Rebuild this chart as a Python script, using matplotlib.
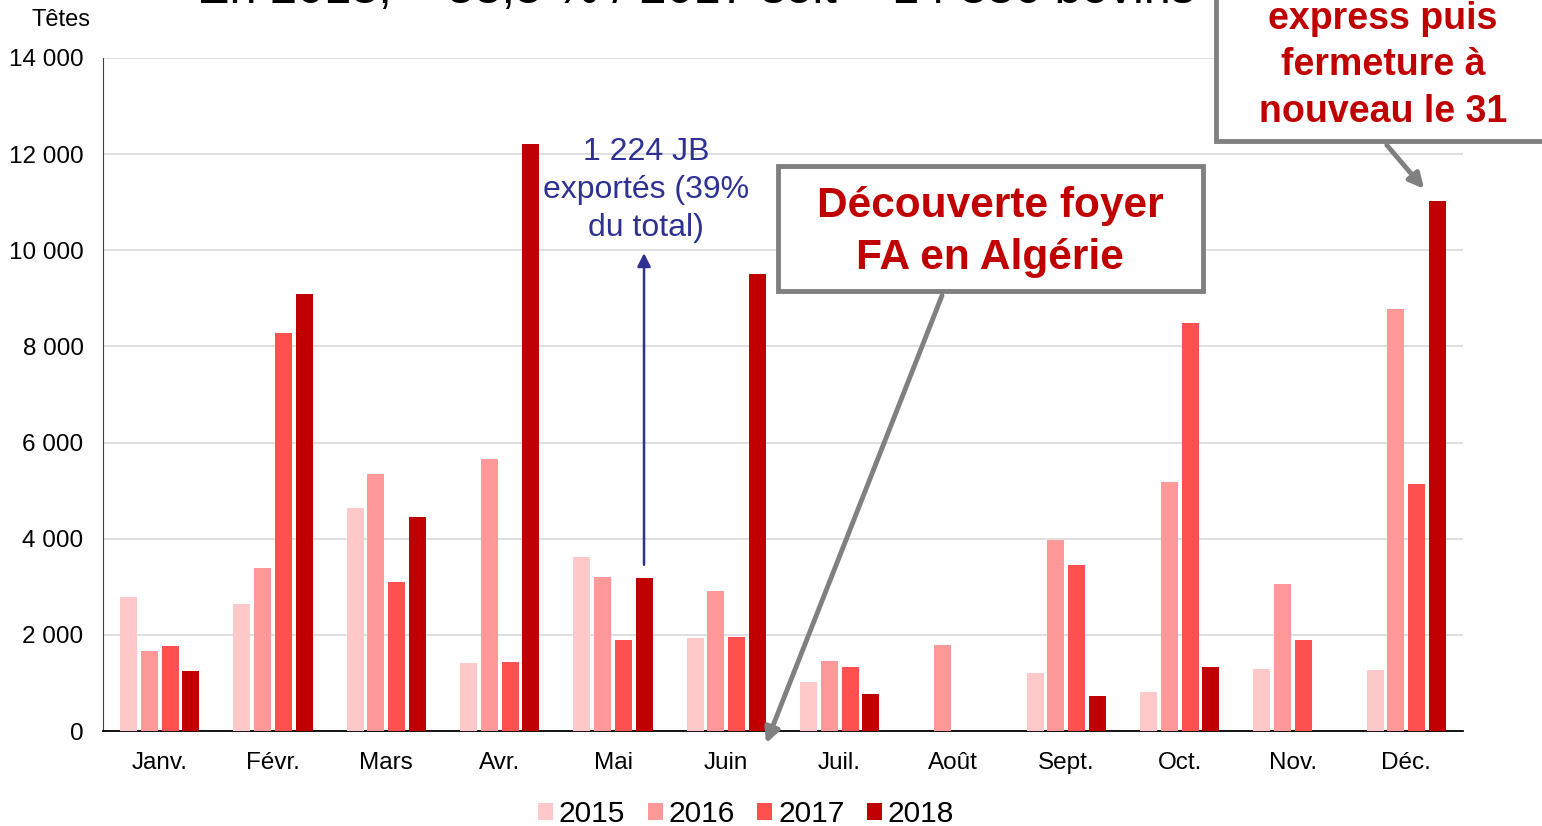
import matplotlib
matplotlib.use("Agg")
import matplotlib.pyplot as plt
from matplotlib.patches import Rectangle, FancyArrowPatch
from matplotlib.ticker import FuncFormatter

plt.rcParams['font.family'] = ['Liberation Sans', 'DejaVu Sans']

months = ["Janv.", "Févr.", "Mars", "Avr.", "Mai", "Juin", "Juil.", "Août", "Sept.", "Oct.", "Nov.", "Déc."]
years = ["2015", "2016", "2017", "2018"]
v2015 = [2790, 2640, 4640, 1410, 3620, 1930, 1020, 0, 1210, 810, 1290, 1270]
v2016 = [1660, 3390, 5350, 5660, 3200, 2910, 1455, 1790, 3970, 5180, 3060, 8780]
v2017 = [1770, 8280, 3100, 1435, 1890, 1955, 1330, 0, 3450, 8490, 1890, 5140]
v2018 = [1250, 9090, 4450, 12210, 3180, 9510, 770, 0, 730, 1330, 0, 11030]
series = [v2015, v2016, v2017, v2018]
colors = ["#FFC9C9", "#FF9999", "#FF5050", "#C00000"]

W, H = 1542, 826
fig = plt.figure(figsize=(W / 100, H / 100), dpi=100)
ax = fig.add_axes([103 / W, 1 - 731 / H, 1360 / W, 673 / H])

def fx(px):
    return px / W

def fy(py):
    return 1 - py / H

step = 0.1825
bw = 0.15
for k, (vals, c, yr) in enumerate(zip(series, colors, years)):
    xs = [i + (k - 1.5) * step for i in range(len(months))]
    ax.bar(xs, vals, width=bw, color=c, label=yr, zorder=3)

ax.set_xlim(-0.5, 11.5)
ax.set_ylim(0, 14000)
ax.set_yticks(range(0, 14001, 2000))
ax.yaxis.set_major_formatter(FuncFormatter(lambda v, p: f"{int(v):,}".replace(",", " ")))
ax.set_xticks(range(len(months)))
ax.set_xticklabels(months)
ax.tick_params(axis='both', length=0, labelsize=17.5, colors='#000000')
ax.tick_params(axis='x', pad=15)
ax.tick_params(axis='y', pad=14)
ax.grid(axis='y', color='#D9D9D9', linewidth=1.2, zorder=0)
for s in ['top', 'right']:
    ax.spines[s].set_visible(False)
ax.spines['left'].set_color('#404040')
ax.spines['bottom'].set_color('#000000')
ax.spines['bottom'].set_linewidth(1.3)

fig.text(fx(61), fy(20), "Têtes", fontsize=17, ha='center', va='center')

leg = fig.legend(loc='center', bbox_to_anchor=(fx(746), fy(814)), ncol=4, frameon=False,
                 fontsize=21.5, handlelength=0.5, handleheight=0.5, handletextpad=0.2,
                 columnspacing=0.75, borderaxespad=0, borderpad=0)

# Cropped title at top
fig.text(fx(696), fy(3), "En 2018, + 53,5 % / 2017 soit + 14 336 bovins", fontsize=35,
         ha='center', va='baseline')

# Navy annotation
navy = "#2E3192"
ax.annotate("", xy=(4 + 1.5 * step, 10000), xytext=(4 + 1.5 * step, 3400),
            arrowprops=dict(arrowstyle='-|>', color=navy, lw=1.8, mutation_scale=20), zorder=5)
fig.text(fx(646), fy(190), "1 224 JB\nexportés (39%\ndu total)", color=navy, fontsize=23,
         ha='center', va='center', linespacing=1.33, zorder=5)

grey = "#808080"
red = "#C00000"
# Box 1
fig.patches.append(Rectangle((fx(778), fy(291)), fx(1203) - fx(778), fy(166) - fy(291),
                             transform=fig.transFigure, facecolor='white', edgecolor=grey,
                             linewidth=3.5, zorder=6))
fig.text(fx(990), fy(232), "Découverte foyer\nFA en Algérie", color=red, fontsize=30.5,
         fontweight='bold', ha='center', va='center', linespacing=1.39, zorder=7)
fig.patches.append(FancyArrowPatch((fx(943), fy(293)), (fx(765), fy(746)),
                                   transform=fig.transFigure, arrowstyle='-|>', color=grey,
                                   lw=3.5, mutation_scale=22, zorder=6))

# Box 2 (top right, cropped)
fig.patches.append(Rectangle((fx(1216), fy(141)), fx(1560) - fx(1216), fy(-80) - fy(141),
                             transform=fig.transFigure, facecolor='white', edgecolor=grey,
                             linewidth=3.5, zorder=6))
fig.text(fx(1383), fy(42), "Réouverture\nexpress puis\nfermeture à\nnouveau le 31", color=red,
         fontsize=27, fontweight='bold', ha='center', va='center', linespacing=1.38, zorder=7)
fig.patches.append(FancyArrowPatch((fx(1385), fy(143)), (fx(1426), fy(191)),
                                   transform=fig.transFigure, arrowstyle='-|>', color=grey,
                                   lw=3.5, mutation_scale=22, zorder=6))

fig.savefig("out.png", dpi=100)
